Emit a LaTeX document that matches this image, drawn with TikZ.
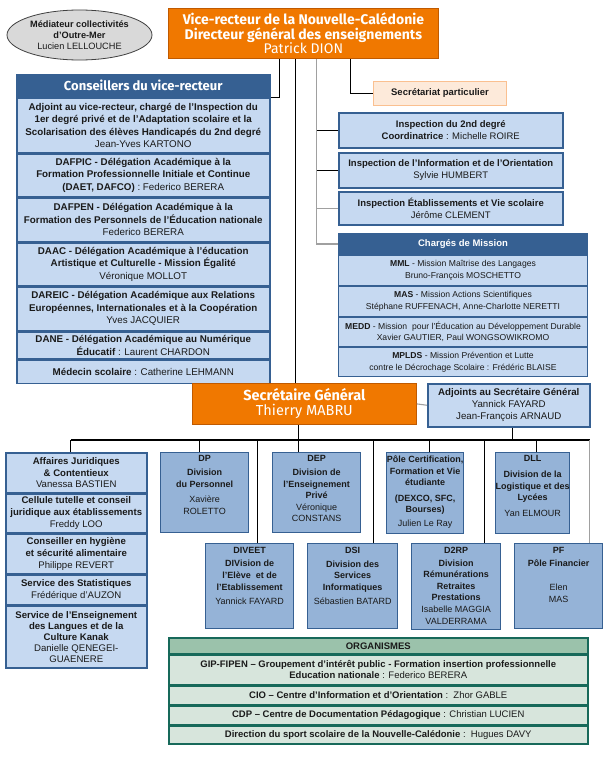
\documentclass[tikz,border=0pt]{standalone}
\usepackage{fontspec}
\setmainfont{Liberation Sans}
\newfontfamily\titlefont{Fira Sans}
\usetikzlibrary{shapes.geometric}

\definecolor{vrorange}{HTML}{F07800}
\definecolor{vrorangedark}{HTML}{C05A00}
\definecolor{darkblue}{HTML}{366092}
\definecolor{lightblue}{HTML}{C6D9F1}
\definecolor{midblue}{HTML}{95B3D7}
\definecolor{peach}{HTML}{FDEADA}
\definecolor{peachline}{HTML}{FAC090}
\definecolor{ovalgray}{HTML}{D9D9D9}
\definecolor{orggreen}{HTML}{9BC2AB}
\definecolor{orglight}{HTML}{D7E5DC}
\definecolor{orgline}{HTML}{17695A}
\definecolor{linegray}{HTML}{A0A0A0}
\definecolor{txt}{HTML}{1A1A1A}

\newcommand{\fs}[2]{\fontsize{#1}{#2}\selectfont}

\tikzset{
  cell/.style={draw=darkblue, line width=1.5pt, fill=lightblue, anchor=north west,
    inner sep=1pt, align=center, text=txt},
  wh/.style 2 args={minimum width=#1, minimum height=#2},
  division/.style={cell, fill=midblue, line width=1.3pt},
  divtext/.style={anchor=north, align=center, inner sep=0pt, text=txt, font=\fs{9}{11.6}},
  chief/.style={draw=vrorangedark, line width=0.8pt, fill=vrorange, anchor=north west,
    inner sep=1pt, align=center, text=white},
  orgcell/.style={cell, draw=orgline, fill=orglight, line width=1.5pt, font=\fs{9.5}{11}},
  link/.style={line width=1.1pt},
  greylink/.style={line width=1.1pt, draw=linegray},
}

\begin{document}
\begin{tikzpicture}[x=1pt, y=-1pt]
  \path[use as bounding box, fill=white] (0,0) rectangle (610,760);

  % top of the chart
  \node[ellipse, draw=black!75, line width=0.8pt, fill=ovalgray, minimum width=145, minimum height=50,
    align=center, inner sep=0pt, text=txt, font=\fs{9.2}{10.8}] (med) at (79.5,35)
    {\textbf{Médiateur collectivités}\\ \textbf{d’Outre-Mer}\\ Lucien LELLOUCHE};
  \node[chief, wh={270}{50}, font=\titlefont\fs{14}{14.5}] (vr) at (168,8)
    {\textbf{Vice-recteur de la Nouvelle-Calédonie}\\ \textbf{Directeur général des enseignements}\\ Patrick DION};

  % conseillers
  \node[cell, fill=darkblue, wh={253}{22}, text=white, font=\titlefont\bfseries\fs{13}{13}] (cons) at (16,74)
    {Conseillers du vice-recteur};
  \node[cell, wh={253}{54}, font=\fs{9.8}{12.5}] (cons1) at (cons.south west)
    {\textbf{Adjoint au vice-recteur, chargé de l’Inspection du}\\ \textbf{1er degré privé et de l’Adaptation scolaire et la}\\
     \textbf{Scolarisation des élèves Handicapés du 2nd degré}\\ Jean-Yves KARTONO};
  \node[cell, wh={253}{43}, font=\fs{9.8}{12.5}] (cons2) at (cons1.south west)
    {\textbf{DAFPIC - Délégation Académique à la}\\ \textbf{Formation Professionnelle Initiale et Continue}\\
     \textbf{(DAET, DAFCO)} : Federico BERERA};
  \node[cell, wh={253}{43}, font=\fs{9.8}{12.5}] (cons3) at (cons2.south west)
    {\textbf{DAFPEN - Délégation Académique à la}\\ \textbf{Formation des Personnels de l’Éducation nationale}\\ Federico BERERA};
  \node[cell, wh={253}{43}, font=\fs{9.8}{12.5}] (cons4) at (cons3.south west)
    {\textbf{DAAC - Délégation Académique à l’éducation}\\ \textbf{Artistique et Culturelle - Mission Égalité}\\ Véronique MOLLOT};
  \node[cell, wh={253}{43}, font=\fs{9.8}{12.5}] (cons5) at (cons4.south west)
    {\textbf{DAREIC - Délégation Académique aux Relations}\\ \textbf{Européennes, Internationales et à la Coopération}\\ Yves JACQUIER};
  \node[cell, wh={253}{27}, font=\fs{9.8}{12.5}] (cons6) at (cons5.south west)
    {\textbf{DANE - Délégation Académique au Numérique}\\ \textbf{Éducatif} : Laurent CHARDON};
  \node[cell, wh={253}{23}, font=\fs{9.8}{12.5}] (cons7) at (cons6.south west)
    {\textbf{Médecin scolaire} : Catherine LEHMANN};

  % right column
  \node[cell, draw=peachline, fill=peach, line width=1pt, wh={133}{24}, font=\fs{9.5}{10}] (secr) at (373,81)
    {\textbf{Secrétariat particulier}};
  \node[cell, wh={224}{35}, font=\fs{9.5}{12.5}] (insp1) at (338,112)
    {\textbf{Inspection du 2nd degré}\\ \textbf{Coordinatrice} : Michelle ROIRE};
  \node[cell, wh={224}{35}, font=\fs{9.5}{12.5}] (insp2) at (338,152)
    {\textbf{Inspection de l’Information et de l’Orientation}\\ Sylvie HUMBERT};
  \node[cell, wh={224}{33}, font=\fs{9.5}{12.5}] (insp3) at (338,191)
    {\textbf{Inspection Établissements et Vie scolaire}\\ Jérôme CLEMENT};

  \node[cell, fill=darkblue, line width=1pt, wh={249}{21}, text=white, font=\bfseries\fs{9.5}{11}] (charg) at (338,233)
    {Chargés de Mission};
  \node[cell, line width=1pt, wh={249}{30}, font=\fs{8.6}{11.5}] (charg1) at (charg.south west)
    {\textbf{MML} - Mission Maîtrise des Langages\\ Bruno-François MOSCHETTO};
  \node[cell, line width=1pt, wh={249}{30}, font=\fs{8.6}{11.5}] (charg2) at (charg1.south west)
    {\textbf{MAS} - Mission Actions Scientifiques\\ Stéphane RUFFENACH, Anne-Charlotte NERETTI};
  \node[cell, line width=1pt, wh={249}{29}, font=\fs{8.6}{11.5}] (charg3) at (charg2.south west)
    {\textbf{MEDD} - Mission\ \ pour l’Éducation au Développement Durable\\ Xavier GAUTIER, Paul WONGSOWIKROMO};
  \node[cell, line width=1pt, wh={249}{29}, font=\fs{8.6}{11.5}] (charg4) at (charg3.south west)
    {\textbf{MPLDS} - Mission Prévention et Lutte\\ contre le Décrochage Scolaire : Frédéric BLAISE};

  % secretaire general
  \node[chief, wh={224}{41}, font=\titlefont\fs{14.5}{15}] (sg) at (192,383)
    {\textbf{Secrétaire Général}\\ Thierry MABRU};
  \node[cell, wh={162}{43}, font=\fs{9.7}{12}] (adj) at (427,383)
    {\textbf{Adjoints au Secrétaire Général}\\ Yannick FAYARD\\ Jean-François ARNAUD};

  % services on the left
  \node[cell, wh={141}{40}, font=\fs{9.6}{11.8}] (aff1) at (5,452)
    {\textbf{Affaires Juridiques}\\ \textbf{\& Contentieux}\\ Vanessa BASTIEN};
  \node[cell, wh={141}{38}, font=\fs{9.6}{11.8}] (aff2) at (aff1.south west)
    {\textbf{Cellule tutelle et conseil}\\ \textbf{juridique aux établissements}\\ Freddy LOO};
  \node[cell, wh={141}{40}, font=\fs{9.6}{11.8}] (aff3) at (aff2.south west)
    {\textbf{Conseiller en hygiène}\\ \textbf{et sécurité alimentaire}\\ Philippe REVERT};
  \node[cell, wh={141}{29}, font=\fs{9.6}{11.8}] (aff4) at (aff3.south west)
    {\textbf{Service des Statistiques}\\ Frédérique d’AUZON};
  \node[cell, wh={141}{62}, font=\fs{9.6}{11}] (aff5) at (aff4.south west)
    {\textbf{Service de l’Enseignement}\\ \textbf{des Langues et de la}\\ \textbf{Culture Kanak}\\ Danielle QENEGEI-\\ GUAENERE};

  % divisions, first row
  \node[division, wh={88}{80}] (dp) at (160,452) {};
  \node[divtext] (dpt) at ([yshift=-3.5]dp.north)
    {\textbf{DP}\\[2pt] \textbf{Division}\\ \textbf{du Personnel}\\[4pt] Xavière\\ ROLETTO};
  \node[division, wh={88}{80}] (dep) at (272,452) {};
  \node[divtext] (dept) at ([yshift=-3.5]dep.north)
    {\textbf{DEP}\\[2pt] \textbf{Division de}\\ \textbf{l’Enseignement}\\ \textbf{Privé}\\ Véronique\\ CONSTANS};
  \node[division, wh={77}{81}] (pole) at (386,452) {};
  \node[divtext] (polet) at ([yshift=-3.5]pole.north)
    {\textbf{Pôle Certification,}\\ \textbf{Formation et Vie}\\ \textbf{étudiante}\\[4pt] \textbf{(DEXCO, SFC,}\\ \textbf{Bourses)}\\[2pt] Julien Le Ray};
  \node[division, wh={74}{81}] (dll) at (495,452) {};
  \node[divtext] (dllt) at ([yshift=-3.5]dll.north)
    {\textbf{DLL}\\[4pt] \textbf{Division de la}\\ \textbf{Logistique et des}\\ \textbf{Lycées}\\[4pt] Yan ELMOUR};

  % divisions, second row
  \node[division, wh={88}{85}] (diveet) at (205,543) {};
  \node[divtext] (diveett) at ([yshift=-4]diveet.north)
    {\textbf{DIVEET}\\[2pt] \textbf{DIVision de}\\ \textbf{l’Elève\ \ et de}\\ \textbf{l’Etablissement}\\[3pt] Yannick FAYARD};
  \node[division, wh={90}{85}] (dsi) at (307,543) {};
  \node[divtext] (dsit) at ([yshift=-4]dsi.north)
    {\textbf{DSI}\\[2pt] \textbf{Division des}\\ \textbf{Services}\\ \textbf{Informatiques}\\[3pt] Sébastien BATARD};
  \node[division, wh={89}{86}] (d2rp) at (411,543) {};
  \node[divtext] (d2rpt) at ([yshift=-4]d2rp.north)
    {\textbf{D2RP}\\[1pt] \textbf{Division}\\ \textbf{Rémunérations}\\ \textbf{Retraites}\\ \textbf{Prestations}\\ Isabelle MAGGIA\\ VALDERRAMA};
  \node[division, wh={88}{85}] (pf) at (514,543) {};
  \node[divtext] (pft) at ([yshift=-4]pf.north)
    {\textbf{PF}\\[2pt] \textbf{Pôle Financier}\\[12pt] Elen\\ MAS};

  % organismes
  \node[orgcell, fill=orggreen, wh={419}{16}] (org) at (168,637) {\textbf{ORGANISMES}};
  \node[orgcell, wh={419}{29}] (org1) at (org.south west)
    {\textbf{GIP-FIPEN – Groupement d’intérêt public - Formation insertion professionnelle}\\ \textbf{Education nationale} : Federico BERERA};
  \node[orgcell, wh={419}{19}] (org2) at (org1.south west)
    {\textbf{CIO – Centre d’Information et d’Orientation} :\ \ Zhor GABLE};
  \node[orgcell, wh={419}{18}] (org3) at (org2.south west)
    {\textbf{CDP – Centre de Documentation Pédagogique} : Christian LUCIEN};
  \node[orgcell, wh={419}{18}] (org4) at (org3.south west)
    {\textbf{Direction du sport scolaire de la Nouvelle-Calédonie} :\ \ Hugues DAVY};

  % links from the vice-recteur
  \draw[link] ([xshift=-23.5]vr.south) |- (cons.south east);
  \draw[link] ([xshift=-7.5]vr.south) -- ([xshift=-7.5]vr.south |- sg.north);
  \draw[greylink] ([xshift=13.5]vr.south) |- (charg.west);
  \foreach \n in {insp1, insp2}
    \draw[link] ([xshift=13.5]vr.south |- \n.west) -- (\n.west);
  \draw[greylink] ([xshift=13.5]vr.south |- insp3.west) -- (insp3.west);
  \draw[link] ([xshift=47.5]vr.south) |- (secr.west);

  % links below the secretaire general
  \coordinate (bus) at (0,440);
  \draw[greylink] (sg.east) -- (adj.west);
  \draw[link] ([xshift=-6]sg.south) -- ([xshift=-6]sg.south |- dep.north);
  \draw[link] ([xshift=4]adj.south) -- ([xshift=4]adj.south |- bus);
  \draw[link] ([xshift=-5.5]aff1.north |- bus) -- ([xshift=31]pf.north |- bus);
  \foreach \n/\s in {aff1/-5.5, dp/-5, pole/4.5, dll/4, diveet/8, dsi/21, d2rp/28.5}
    \draw[link] ([xshift=\s]\n.north) -- ([xshift=\s]\n.north |- bus);
  \draw[greylink] ([xshift=31]pf.north) -- ([xshift=31]pf.north |- bus);
\end{tikzpicture}
\end{document}
